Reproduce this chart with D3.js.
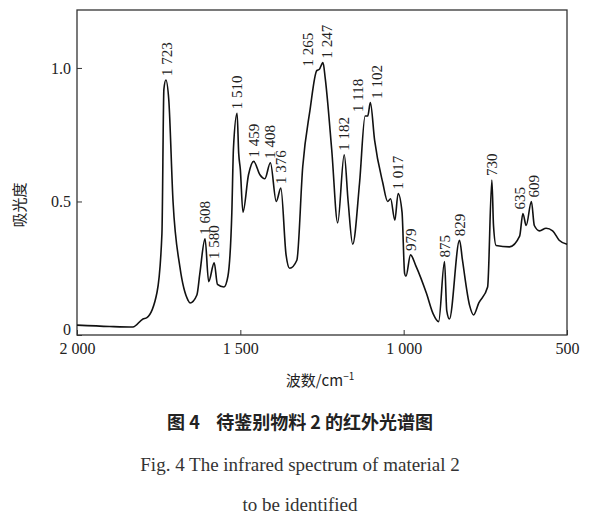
<!DOCTYPE html><html><head><meta charset="utf-8">
<script src="https://cdn.jsdelivr.net/npm/d3@7"></script>
<style>body{margin:0;background:#fff}</style></head><body><svg id="c" width="600" height="528"></svg>
<script>
const wavenumbers=[2000,1900,1829,1798,1786,1755,1740,1734,1728,1719,1706,1685,1660,1654,1633,1624,1608,1597,1580,1570,1550,1538,1526,1521,1510,1505,1500,1492,1475,1459,1440,1425,1408,1390,1376,1360,1349,1327,1309,1287,1266,1258,1247,1240,1220,1202,1182,1170,1156,1135,1118,1110,1102,1089,1064,1049,1040,1027,1017,1005,997,993,979,963,930,910,893,875,868,860,829,820,798,786,770,743,730,725,717,676,645,635,625,609,600,584,564,544,524,500];
const absorb=[0.037,0.032,0.03,0.06,0.065,0.16,0.38,0.92,0.955,0.88,0.5,0.255,0.13,0.12,0.15,0.23,0.36,0.2,0.27,0.19,0.18,0.22,0.46,0.7,0.83,0.68,0.62,0.46,0.6,0.65,0.6,0.585,0.645,0.5,0.55,0.3,0.25,0.28,0.63,0.84,0.99,0.995,1.02,0.96,0.69,0.42,0.675,0.5,0.34,0.57,0.82,0.82,0.87,0.73,0.57,0.5,0.51,0.43,0.53,0.46,0.23,0.22,0.3,0.26,0.155,0.08,0.05,0.275,0.09,0.06,0.355,0.28,0.11,0.075,0.12,0.18,0.58,0.41,0.335,0.33,0.37,0.455,0.41,0.5,0.41,0.39,0.4,0.39,0.355,0.34];
const peakLabels=["1 723","1 608","1 580","1 510","1 459","1 408","1 376","1 265","1 247","1 182","1 118","1 102","1 017","979","875","829","730","635","609"];
const peakWn=[1723,1608,1580,1510,1459,1408,1376,1265,1247,1182,1118,1102,1017,979,875,829,730,635,609];
const peakAbs=[0.955,0.36,0.27,0.83,0.65,0.645,0.55,0.99,1.02,0.675,0.82,0.87,0.53,0.3,0.275,0.355,0.58,0.455,0.5];
const xTicks=[2000,1500,1000,500], xTickLabels=["2 000","1 500","1 000","500"];
const yTicks=[0,0.5,1.0], yTickLabels=["0","0.5","1.0"];

const svg=d3.select("#c"), L=77,R=567,T=10,B=335;
const x=d3.scaleLinear().domain([2000,500]).range([L,R]);
const y=d3.scaleLinear().domain([0,1.217]).range([B,T]);
const serif="'Liberation Serif','DejaVu Serif',serif", cjk="'Noto Sans CJK SC',sans-serif";
const labelShift={"1 265":-9,"1 247":4,"1 118":-7,"1 102":7,"635":-3,"609":3};
svg.append("rect").attr("x",L).attr("y",T).attr("width",R-L).attr("height",B-T).attr("fill","none").attr("stroke","#333").attr("stroke-width",1.3);
const xa=svg.append("g").attr("transform",`translate(0,${B})`).call(d3.axisBottom(x).tickValues(xTicks).tickSize(-5).tickSizeOuter(0).tickPadding(8).tickFormat((d,i)=>xTickLabels[i]));
const ya=svg.append("g").attr("transform",`translate(${L},0)`).call(d3.axisLeft(y).tickValues(yTicks).tickSize(-5).tickSizeOuter(0).tickPadding(6).tickFormat((d,i)=>yTickLabels[i]));
[xa,ya].forEach(a=>{a.select(".domain").remove();a.selectAll("line").attr("stroke","#333");a.selectAll("text").attr("font-family",serif).attr("font-size",16).attr("fill","#222");});
ya.selectAll("text").filter(d=>d===0).attr("dy","-0.05em");
svg.append("path").datum(wavenumbers.map((w,i)=>[w,absorb[i]])).attr("fill","none").attr("stroke","#111").attr("stroke-width",1.6)
 .attr("d",d3.line().x(d=>x(d[0])).y(d=>y(d[1])).curve(d3.curveMonotoneX));
svg.selectAll(".pl").data(peakLabels).enter().append("text")
 .attr("transform",(d,i)=>`translate(${x(peakWn[i])+5+(labelShift[d]||0)},${y(peakAbs[i])-4}) rotate(-90)`)
 .attr("font-family",serif).attr("font-size",15).attr("fill","#222").text(d=>d);
svg.append("text").attr("x",320).attr("y",386).attr("text-anchor","middle").attr("font-family",cjk).attr("font-size",15).attr("fill","#222")
 .html("波数/cm<tspan dy='-6' font-size='10'>−1</tspan>");
svg.append("text").attr("transform","translate(25,205) rotate(-90)").attr("text-anchor","middle").attr("font-family",cjk).attr("font-size",15).attr("fill","#222").text("吸光度");
svg.append("text").attr("x",300).attr("y",429).attr("text-anchor","middle").attr("font-family",cjk).attr("font-weight","bold").attr("font-size",18).attr("fill","#222").attr("xml:space","preserve").text("图 4    待鉴别物料 2 的红外光谱图");
svg.append("text").attr("x",300).attr("y",471).attr("text-anchor","middle").attr("font-family",serif).attr("font-size",19).attr("fill","#333").text("Fig. 4 The infrared spectrum of material 2");
svg.append("text").attr("x",300).attr("y",511).attr("text-anchor","middle").attr("font-family",serif).attr("font-size",19).attr("fill","#333").text("to be identified");
</script></body></html>
